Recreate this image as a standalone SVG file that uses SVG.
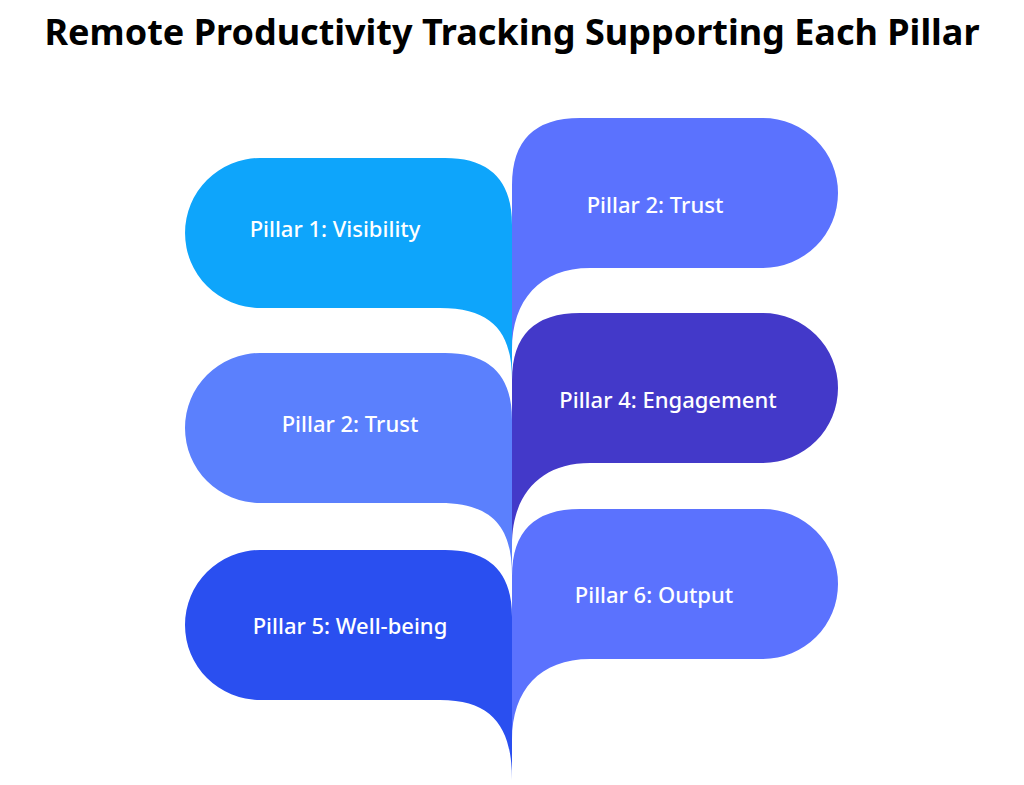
<svg xmlns="http://www.w3.org/2000/svg" width="1024" height="785" viewBox="0 0 1024 785">
<style>
.t{font-family:"Noto Sans","Open Sans",sans-serif;font-size:22px;fill:#fff;text-anchor:middle;font-weight:500}
.h{font-family:"Noto Sans","Open Sans",sans-serif;font-size:36px;font-weight:bold;fill:#000;text-anchor:middle}
</style>
<rect width="1024" height="785" fill="#fff"/>
<text class="h" x="512" y="45">Remote Productivity Tracking Supporting Each Pillar</text>
<g id="n1"><path fill="#0EA5FB" d="M260,158 H445 Q512,158 512,225 V380 C512,335 495,308 440,308 H260 A75,75 0 0 1 260,158 Z"/><text class="t" x="335" y="237">Pillar 1: Visibility</text></g>
<g id="n2"><path fill="#5B72FE" d="M763,118 A75,75 0 0 1 763,268 H590 C540,268 512,300 512,350 V185 Q512,118 580,118 Z"/><text class="t" x="655" y="213">Pillar 2: Trust</text></g>
<g id="n3"><path fill="#5B80FD" d="M260,353 H445 Q512,353 512,420 V575 C512,530 495,503 440,503 H260 A75,75 0 0 1 260,353 Z"/><text class="t" x="350" y="432">Pillar 2: Trust</text></g>
<g id="n4"><path fill="#4339C9" d="M763,313 A75,75 0 0 1 763,463 H590 C540,463 512,495 512,545 V380 Q512,313 580,313 Z"/><text class="t" x="668" y="408">Pillar 4: Engagement</text></g>
<g id="n5"><path fill="#2A4FF0" d="M260,550 H445 Q512,550 512,617 V780 C512,730 495,700 440,700 H260 A75,75 0 0 1 260,550 Z"/><text class="t" x="350" y="634">Pillar 5: Well-being</text></g>
<g id="n6"><path fill="#5B72FE" d="M763,509 A75,75 0 0 1 763,659 H590 C540,659 512,690 512,740 V576 Q512,509 580,509 Z"/><text class="t" x="654" y="603">Pillar 6: Output</text></g>
<g id="connectors"/>
</svg>
